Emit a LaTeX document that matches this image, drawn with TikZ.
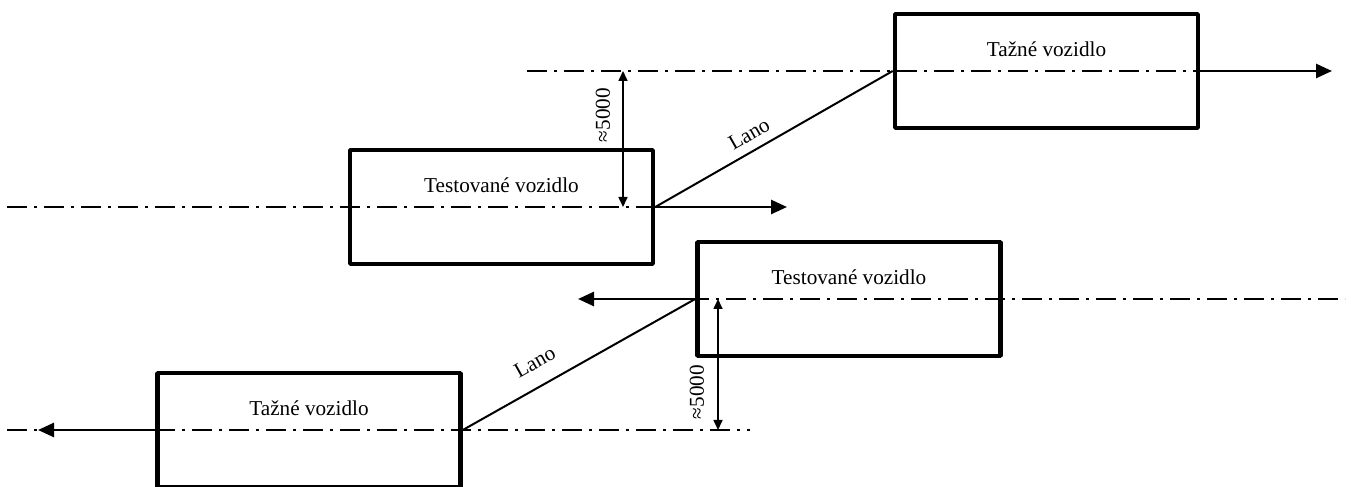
\documentclass[tikz,border=0pt]{standalone}
\usepackage{fontspec}
\setmainfont{Liberation Serif}
\usetikzlibrary{arrows.meta}
\begin{document}
\begin{tikzpicture}[>={Triangle[length=8bp,width=7bp]},line join=bevel,
  vehicle/.style={draw,line width=2.3bp,minimum width=151.5bp,minimum height=57bp,inner sep=0pt},
  axis/.style={line width=1bp,dash pattern=on 10bp off 3.5bp on 1.5bp off 3.5bp},
  dim/.style={line width=0.8bp,{Triangle[length=5bp,width=4.5bp]}-{Triangle[length=5bp,width=4.5bp]}},
  move/.style={line width=1.3bp,->},
  rope/.style={line width=1bp},
  font=\fontsize{10.6bp}{12bp}\selectfont]
\useasboundingbox (0bp,0bp) rectangle (675.5bp,243.5bp);
%%
\node (tazne_0) at (523.25bp,208bp) [vehicle] {};
  \node (tazne_0_txt) at (523.25bp,219bp) {Tažné vozidlo};
  \node (test_0) at (250.75bp,140bp) [vehicle] {};
  \node (test_0_txt) at (250.75bp,151bp) {Testované vozidlo};
  \node (test_1) at (424.5bp,94bp) [vehicle] {};
  \node (test_1_txt) at (424.5bp,105bp) {Testované vozidlo};
  \node (tazne_1) at (154.5bp,28.5bp) [vehicle] {};
  \node (tazne_1_txt) at (154.5bp,39.5bp) {Tažné vozidlo};
%
\coordinate (axis_0_a) at (263.5bp,208bp);
  \coordinate (axis_0_b) at (635bp,208bp);
  \coordinate (axis_1_a) at (3.5bp,140bp);
  \coordinate (axis_1_b) at (367.5bp,140bp);
  \coordinate (axis_2_a) at (307.5bp,94bp);
  \coordinate (axis_2_b) at (672.5bp,94bp);
  \coordinate (axis_3_a) at (3.5bp,28.5bp);
  \coordinate (axis_3_b) at (375bp,28.5bp);
  \draw [black,axis] (axis_0_a) -- (axis_0_b);
  \draw [black,axis] (axis_1_a) -- (axis_1_b);
  \draw [black,axis] (axis_2_a) -- (axis_2_b);
  \draw [black,axis] (axis_3_a) -- (axis_3_b);
%
\coordinate (go_0) at (666bp,208bp);
  \coordinate (go_1) at (393.5bp,140bp);
  \coordinate (go_2) at (289bp,94bp);
  \coordinate (go_3) at (19bp,28.5bp);
  \draw [black,move] (tazne_0.east) -- (go_0);
  \draw [black,move] (test_0.east) -- (go_1);
  \draw [black,move] (test_1.west) -- (go_2);
  \draw [black,move] (tazne_1.west) -- (go_3);
%
\draw [black,rope] (test_0.east) -- node [pos=0.43,sloped,above=1bp] {Lano} (tazne_0.west);
  \draw [black,rope] (tazne_1.east) -- node [pos=0.36,sloped,above=4.5bp] {Lano} (test_1.west);
%
\coordinate (dim_0_a) at (311.5bp,208bp);
  \coordinate (dim_0_b) at (311.5bp,140bp);
  \coordinate (dim_1_a) at (359bp,94bp);
  \coordinate (dim_1_b) at (359bp,28.5bp);
  \draw [black,dim] (dim_0_a) -- (dim_0_b);
  \draw [black,dim] (dim_1_a) -- (dim_1_b);
  \node (dim_0_txt) at (301.5bp,186bp) [rotate=90] {≈5000};
  \node (dim_1_txt) at (348.5bp,47.5bp) [rotate=90] {≈5000};
%
\end{tikzpicture}
\end{document}
